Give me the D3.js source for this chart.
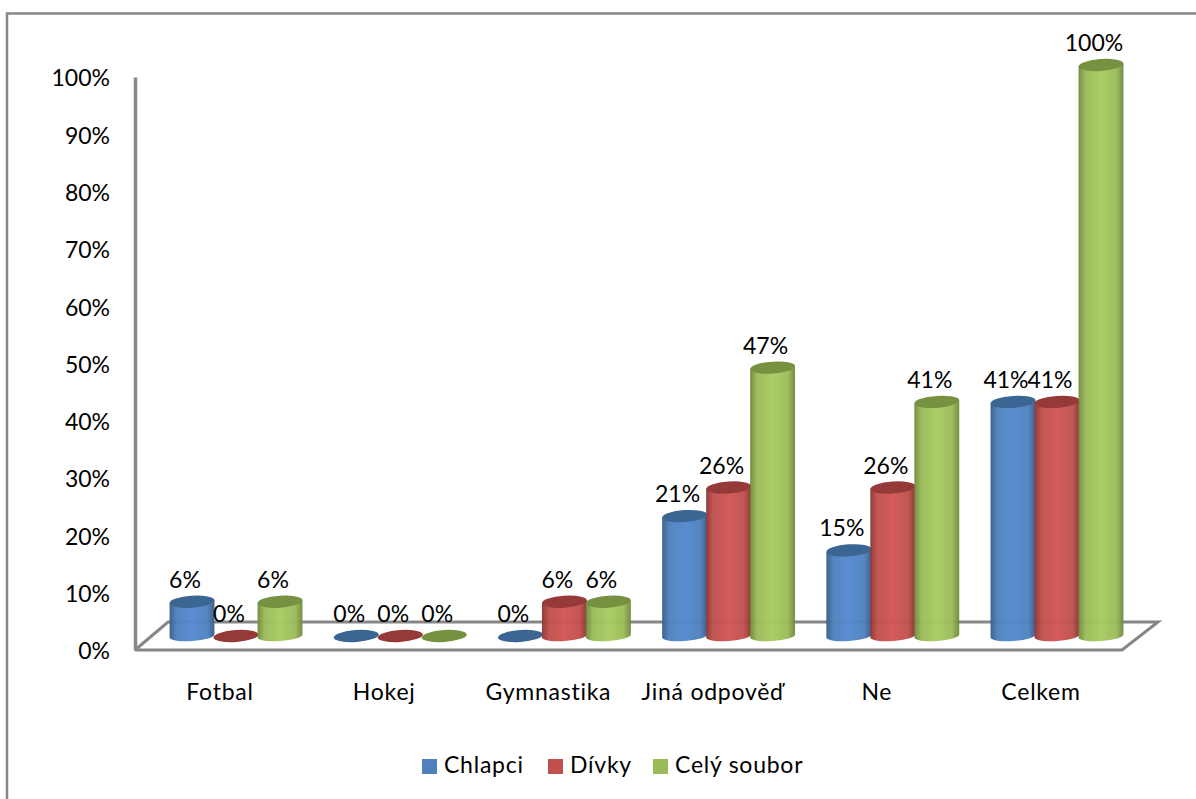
<!DOCTYPE html>
<html>
<head>
<meta charset="utf-8">
<script src="https://cdn.jsdelivr.net/npm/d3@7"></script>
<style>
  html, body { margin: 0; padding: 0; background: #fff; }
  svg { display: block; }
  text { font-family: Lato, "Open Sans", sans-serif; fill: #000; }
</style>
</head>
<body>
<svg id="chart" width="1196" height="799"></svg>
<script>
var categories = ['Fotbal', 'Hokej', 'Gymnastika', 'Jiná odpověď', 'Ne', 'Celkem'];
var seriesNames = ['Chlapci', 'Dívky', 'Celý soubor'];
var chlapci = [6, 0, 0, 21, 15, 41];
var divky = [0, 0, 6, 26, 26, 41];
var celySoubor = [6, 0, 6, 47, 41, 100];
var tickValues = [0, 10, 20, 30, 40, 50, 60, 70, 80, 90, 100];

var allSeries = [chlapci, divky, celySoubor];
var sideColors = ['#4f81bd', '#c0504d', '#9bbb59'];
var brightColors = ['#5289cf', '#d05552', '#a8cb60'];
var darkColors = ['#375d8c', '#8a3533', '#6f8a3c'];
var topColors = ['#3b6592', '#953a38', '#76913f'];
var grey = '#868686';
var fontSize = 23;
var wordSpacing = '0.75px';

var svg = d3.select('#chart');

// scales
var xCat = d3.scaleBand().domain(categories).range([153.9, 1139.1]);
var xSer = d3.scaleBand().domain(seriesNames).range([-66, 66]);
var yAxisScale = d3.scaleLinear().domain([0, 100]).range([650, 77]);
var yBar = d3.scaleLinear().domain([0, 100]).range([636, 65]);

// side gradients of the cylinders
var defs = svg.append('defs');
seriesNames.forEach(function(s, i) {
  var g = defs.append('linearGradient').attr('id', 'cyl' + i);
  g.append('stop').attr('offset', '0%').attr('stop-color', darkColors[i]);
  g.append('stop').attr('offset', '16%').attr('stop-color', sideColors[i]);
  g.append('stop').attr('offset', '50%').attr('stop-color', brightColors[i]);
  g.append('stop').attr('offset', '84%').attr('stop-color', sideColors[i]);
  g.append('stop').attr('offset', '100%').attr('stop-color', darkColors[i]);
});

// outer frame, only top and left show in the picture
svg.append('path')
  .attr('d', 'M7,799V13.5H1196')
  .attr('fill', 'none')
  .attr('stroke', grey)
  .attr('stroke-width', 2.5);

// floor
svg.append('path')
  .attr('d', 'M135,650L168,622H1158L1122,650H135')
  .attr('fill', 'none')
  .attr('stroke', grey)
  .attr('stroke-width', 3);

// value axis
var yAxis = svg.append('g')
  .attr('transform', 'translate(135,1.5)')
  .call(d3.axisLeft(yAxisScale).tickValues(tickValues).tickSize(0).tickPadding(25)
    .tickFormat(function(d) { return d + '%'; }));
yAxis.select('.domain').attr('stroke', grey).attr('stroke-width', 3.5).attr('transform', 'translate(0,-1.5)');
yAxis.selectAll('text').style('font-size', fontSize + 'px').style('font-family', 'Lato');

// category axis
var xAxis = svg.append('g')
  .attr('transform', 'translate(-16,650)')
  .call(d3.axisBottom(xCat).tickSize(0).tickPadding(34));
xAxis.select('.domain').remove();
xAxis.selectAll('text')
  .style('font-size', fontSize + 'px')
  .style('font-family', 'Lato')
  .style('letter-spacing', wordSpacing);

// cylinders
var rx = 22.5, ry = 6, tilt = -4;
var dx = rx * Math.cos(tilt * Math.PI / 180), dy = rx * Math.sin(tilt * Math.PI / 180);

function bodyPath(cx, yTop, yBase) {
  return 'M' + (cx - dx) + ',' + (yTop - dy) +
    'L' + (cx - dx) + ',' + (yBase - dy) +
    'A' + rx + ',' + (ry - 1) + ' ' + tilt + ' 0 0 ' + (cx + dx) + ',' + (yBase + dy) +
    'L' + (cx + dx) + ',' + (yTop + dy) + 'Z';
}

seriesNames.forEach(function(name, i) {
  var values = allSeries[i];
  var g = svg.append('g').attr('class', 'series');
  var cx = function(d, j) { return xCat(categories[j]) + xCat.bandwidth() / 2 + xSer(name) + xSer.bandwidth() / 2; };

  g.selectAll('path.body')
    .data(values)
    .enter().append('path')
      .attr('class', 'body')
      .attr('d', function(d, j) { return bodyPath(cx(d, j), yBar(d), yBar(0)); })
      .attr('fill', 'url(#cyl' + i + ')')
      .attr('fill-opacity', 0.96);

  g.selectAll('ellipse')
    .data(values)
    .enter().append('ellipse')
      .attr('rx', rx)
      .attr('ry', ry)
      .attr('fill', topColors[i])
      .attr('transform', function(d, j) {
        return 'translate(' + cx(d, j) + ',' + yBar(d) + ') rotate(' + tilt + ')';
      });
});

// data labels go above all the cylinders
seriesNames.forEach(function(name, i) {
  svg.append('g').selectAll('text')
    .data(allSeries[i])
    .enter().append('text')
      .attr('x', function(d, j) { return xCat(categories[j]) + xCat.bandwidth() / 2 + xSer(name) + xSer.bandwidth() / 2 - 7; })
      .attr('y', function(d) { return yBar(d) - 14; })
      .attr('text-anchor', 'middle')
      .style('font-size', fontSize + 'px')
      .text(function(d) { return d + '%'; });
});

// legend
var legendX = [422, 548, 653];
var legend = svg.append('g').selectAll('g')
  .data(seriesNames)
  .enter().append('g')
    .attr('transform', function(d, i) { return 'translate(' + legendX[i] + ',759)'; });
legend.append('rect')
  .attr('width', 15)
  .attr('height', 15)
  .attr('fill', function(d, i) { return sideColors[i]; });
legend.append('text')
  .attr('x', 22)
  .attr('y', 14)
  .style('font-size', fontSize + 'px')
  .style('letter-spacing', wordSpacing)
  .text(function(d) { return d; });
</script>
</body>
</html>
